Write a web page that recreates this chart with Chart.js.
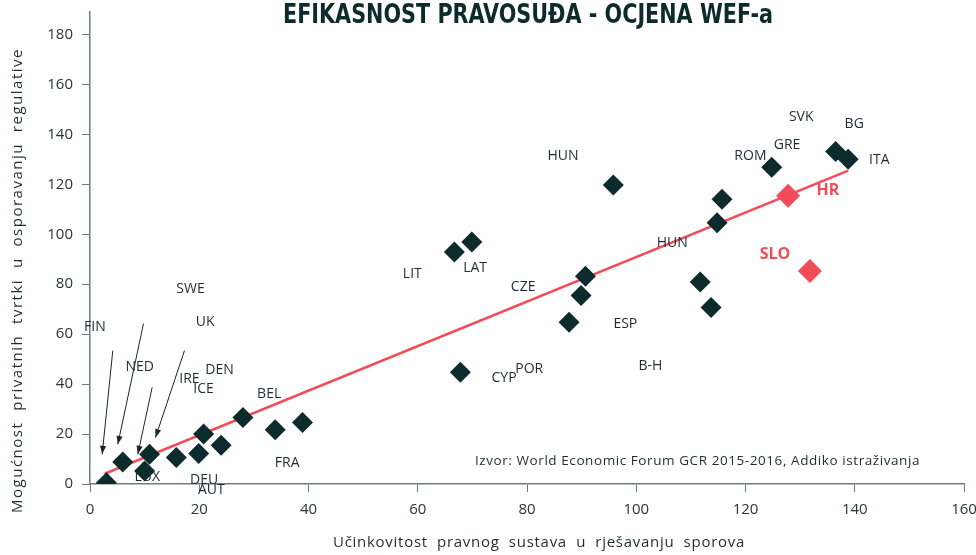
<!DOCTYPE html>
<html>
<head>
<meta charset="utf-8">
<script src="https://cdn.jsdelivr.net/npm/chart.js@4.4.0/dist/chart.umd.min.js"></script>
<style>
  html, body { margin: 0; padding: 0; background: #fff; }
  #wrap { width: 976px; height: 555px; position: relative; }
</style>
</head>
<body>
<div id="wrap"><canvas id="wefChart"></canvas></div>
<script>
// =============== DATA ===============
const xTicks = [0, 20, 40, 60, 80, 100, 120, 140, 160];
const yTicks = [0, 20, 40, 60, 80, 100, 120, 140, 160, 180];

// tamne točke (ostale zemlje)
const pointX = [3, 6, 10, 10.9, 15.8, 19.9, 20.8, 24, 28, 33.9, 38.9,
                66.7, 69.9, 90.7, 89.9, 87.7, 67.8, 95.8,
                124.8, 136.5, 138.8, 115.7, 114.8, 111.7, 113.7];
const pointY = [0.5, 8.8, 5.2, 11.9, 10.6, 12.2, 20, 15.5, 26.6, 21.7, 24.6,
                92.9, 96.9, 83.2, 75.5, 64.8, 44.7, 119.7,
                126.8, 133.1, 130, 114, 104.6, 80.9, 70.7];

// HR i SLO (crveno)
const redX = [127.8, 131.8];
const redY = [115.4, 85.3];

// linija trenda
const trendX = [2.7, 138.8];
const trendY = [4.1, 125.5];

// oznake zemalja
const labelText = ['SWE', 'FIN', 'UK', 'NED', 'DEN', 'IRE', 'ICE', 'BEL', 'LUX', 'DEU', 'AUT', 'FRA',
                   'LIT', 'LAT', 'CZE', 'HUN', 'ESP', 'POR', 'CYP', 'B-H', 'HUN',
                   'ROM', 'GRE', 'SVK', 'BG', 'ITA'];
const labelX = [18.4, 0.9, 21.1, 9.1, 23.7, 18.2, 20.8, 32.8, 10.5, 20.9, 22.2, 36.1,
                59, 70.5, 79.3, 86.6, 98, 80.4, 75.8, 102.6, 106.6,
                120.9, 127.6, 130.2, 139.9, 144.5];
const labelY = [77.9, 62.7, 65, 47, 45.8, 42.2, 38.2, 36.2, 2.8, 1.6, -2.4, 8.4,
                84, 86.4, 78.7, 131.4, 64, 46.2, 42.6, 47.4, 96.4,
                131.4, 135.8, 147, 144.2, 129.8];

const redLabelText = ['HR', 'SLO'];
const redLabelX = [135.1, 125.4];
const redLabelY = [117.7, 92];

// strelice (od oznake prema točki)
const arrowFromX = [4.17, 9.79, 11.38, 17.29];
const arrowFromY = [53.4, 64.2, 38.7, 53.4];
const arrowToX = [2.23, 5.09, 8.75, 11.99];
const arrowToY = [11.9, 15.9, 11.9, 18.6];

const titleText = 'EFIKASNOST PRAVOSUĐA - OCJENA WEF-a';
const xTitle = 'Učinkovitost  pravnog  sustava  u  rješavanju  sporova';
const yTitle = 'Mogućnost  privatnih  tvrtki  u  osporavanju  regulative';
const sourceText = 'Izvor: World Economic Forum GCR 2015-2016, Addiko istraživanja';

// =============== COLORS ===============
const darkColor = '#0d2b2c';
const redColor = '#f24c58';
const textColor = '#1f2d33';
const axisColor = '#6f7d7d';

// tekst razvučen na zadanu širinu (pomoću razmaka između slova)
function drawFitted(ctx, text, x, y, width) {
  ctx.letterSpacing = '0px';
  const w = ctx.measureText(text).width;
  ctx.letterSpacing = ((width - w) / text.length) + 'px';
  ctx.fillText(text, x, y);
  ctx.letterSpacing = '0px';
}

// =============== PLUGIN: oznake, strelice, naslovi ===============
const annotations = {
  id: 'annotations',
  afterDatasetsDraw(chart) {
    const { ctx, scales: { x, y } } = chart;
    ctx.save();

    // strelice
    ctx.strokeStyle = '#1b2626';
    ctx.fillStyle = '#1b2626';
    ctx.lineWidth = 1;
    for (let i = 0; i < arrowFromX.length; i++) {
      const x1 = x.getPixelForValue(arrowFromX[i]);
      const y1 = y.getPixelForValue(arrowFromY[i]);
      const x2 = x.getPixelForValue(arrowToX[i]);
      const y2 = y.getPixelForValue(arrowToY[i]);
      const ang = Math.atan2(y2 - y1, x2 - x1);
      ctx.beginPath();
      ctx.moveTo(x1, y1);
      ctx.lineTo(x2, y2);
      ctx.stroke();
      ctx.beginPath();
      ctx.moveTo(x2, y2);
      ctx.lineTo(x2 - 9 * Math.cos(ang - 0.35), y2 - 9 * Math.sin(ang - 0.35));
      ctx.lineTo(x2 - 9 * Math.cos(ang + 0.35), y2 - 9 * Math.sin(ang + 0.35));
      ctx.closePath();
      ctx.fill();
    }

    // oznake zemalja
    ctx.textAlign = 'center';
    ctx.textBaseline = 'middle';
    ctx.font = '14px "Open Sans", sans-serif';
    ctx.fillStyle = textColor;
    labelText.forEach((t, i) => {
      ctx.fillText(t, x.getPixelForValue(labelX[i]), y.getPixelForValue(labelY[i]));
    });

    ctx.font = 'bold 16px "Open Sans", sans-serif';
    ctx.fillStyle = redColor;
    redLabelText.forEach((t, i) => {
      ctx.fillText(t, x.getPixelForValue(redLabelX[i]), y.getPixelForValue(redLabelY[i]));
    });

    // izvor
    ctx.font = '13.5px "Open Sans", sans-serif';
    ctx.fillStyle = textColor;
    ctx.textAlign = 'left';
    drawFitted(ctx, sourceText, 475, 461, 445);

    // naslov (uski, masni)
    ctx.font = 'bold 27px "DejaVu Sans Condensed", "DejaVu Sans", sans-serif';
    ctx.fillStyle = '#0d2b2c';
    ctx.textAlign = 'left';
    ctx.textBaseline = 'alphabetic';
    const tw = ctx.measureText(titleText).width;
    ctx.save();
    ctx.translate(283, 23);
    ctx.scale(490 / tw, 1);
    ctx.fillText(titleText, 0, 0);
    ctx.restore();

    // naslovi osi
    ctx.font = '15px "Open Sans", sans-serif';
    ctx.fillStyle = textColor;
    ctx.textBaseline = 'middle';
    drawFitted(ctx, xTitle, 333, 543, 412);
    ctx.translate(18, 513);
    ctx.rotate(-Math.PI / 2);
    drawFitted(ctx, yTitle, 0, 0, 465);

    ctx.restore();
  }
};

// =============== CHART ===============
const ctx = document.getElementById('wefChart').getContext('2d');
new Chart(ctx, {
  type: 'scatter',
  data: {
    datasets: [
      {
        label: 'trend',
        type: 'line',
        data: trendX.map((v, i) => ({ x: v, y: trendY[i] })),
        borderColor: redColor,
        borderWidth: 2.5,
        pointRadius: 0,
        fill: false,
        order: 2
      },
      {
        label: 'zemlje',
        data: pointX.map((v, i) => ({ x: v, y: pointY[i] })),
        pointStyle: 'rectRot',
        pointRadius: 10.5,
        backgroundColor: darkColor,
        borderColor: darkColor,
        borderWidth: 0,
        order: 1
      },
      {
        label: 'HR/SLO',
        data: redX.map((v, i) => ({ x: v, y: redY[i] })),
        pointStyle: 'rectRot',
        pointRadius: 12,
        backgroundColor: redColor,
        borderColor: redColor,
        borderWidth: 0,
        order: 0
      }
    ]
  },
  options: {
    responsive: true,
    maintainAspectRatio: false,
    animation: false,
    layout: { padding: { top: 5, right: 11, bottom: 0, left: 0 } },
    plugins: {
      legend: { display: false },
      tooltip: { enabled: false }
    },
    scales: {
      x: {
        type: 'linear',
        min: 0,
        max: 160,
        afterFit: s => { s.height = 71; s.paddingLeft = 0; s.paddingRight = 0; },
        afterBuildTicks: s => { s.ticks = xTicks.map(v => ({ value: v })); },
        grid: { drawOnChartArea: false, drawTicks: true, tickLength: 8, color: axisColor },
        border: { display: true, color: axisColor, width: 1.5 },
        ticks: {
          color: '#2a3535',
          padding: 9,
          font: { family: "'Open Sans', sans-serif", size: 15 }
        }
      },
      y: {
        type: 'linear',
        min: 0,
        max: 189,
        afterFit: s => { s.width = 90; s.paddingTop = 0; s.paddingBottom = 0; },
        afterBuildTicks: s => { s.ticks = yTicks.map(v => ({ value: v })); },
        grid: { drawOnChartArea: false, drawTicks: true, tickLength: 8, color: axisColor },
        border: { display: true, color: axisColor, width: 1.5 },
        ticks: {
          color: '#2a3535',
          padding: 9,
          font: { family: "'Open Sans', sans-serif", size: 15 }
        }
      }
    }
  },
  plugins: [annotations]
});
</script>
</body>
</html>
